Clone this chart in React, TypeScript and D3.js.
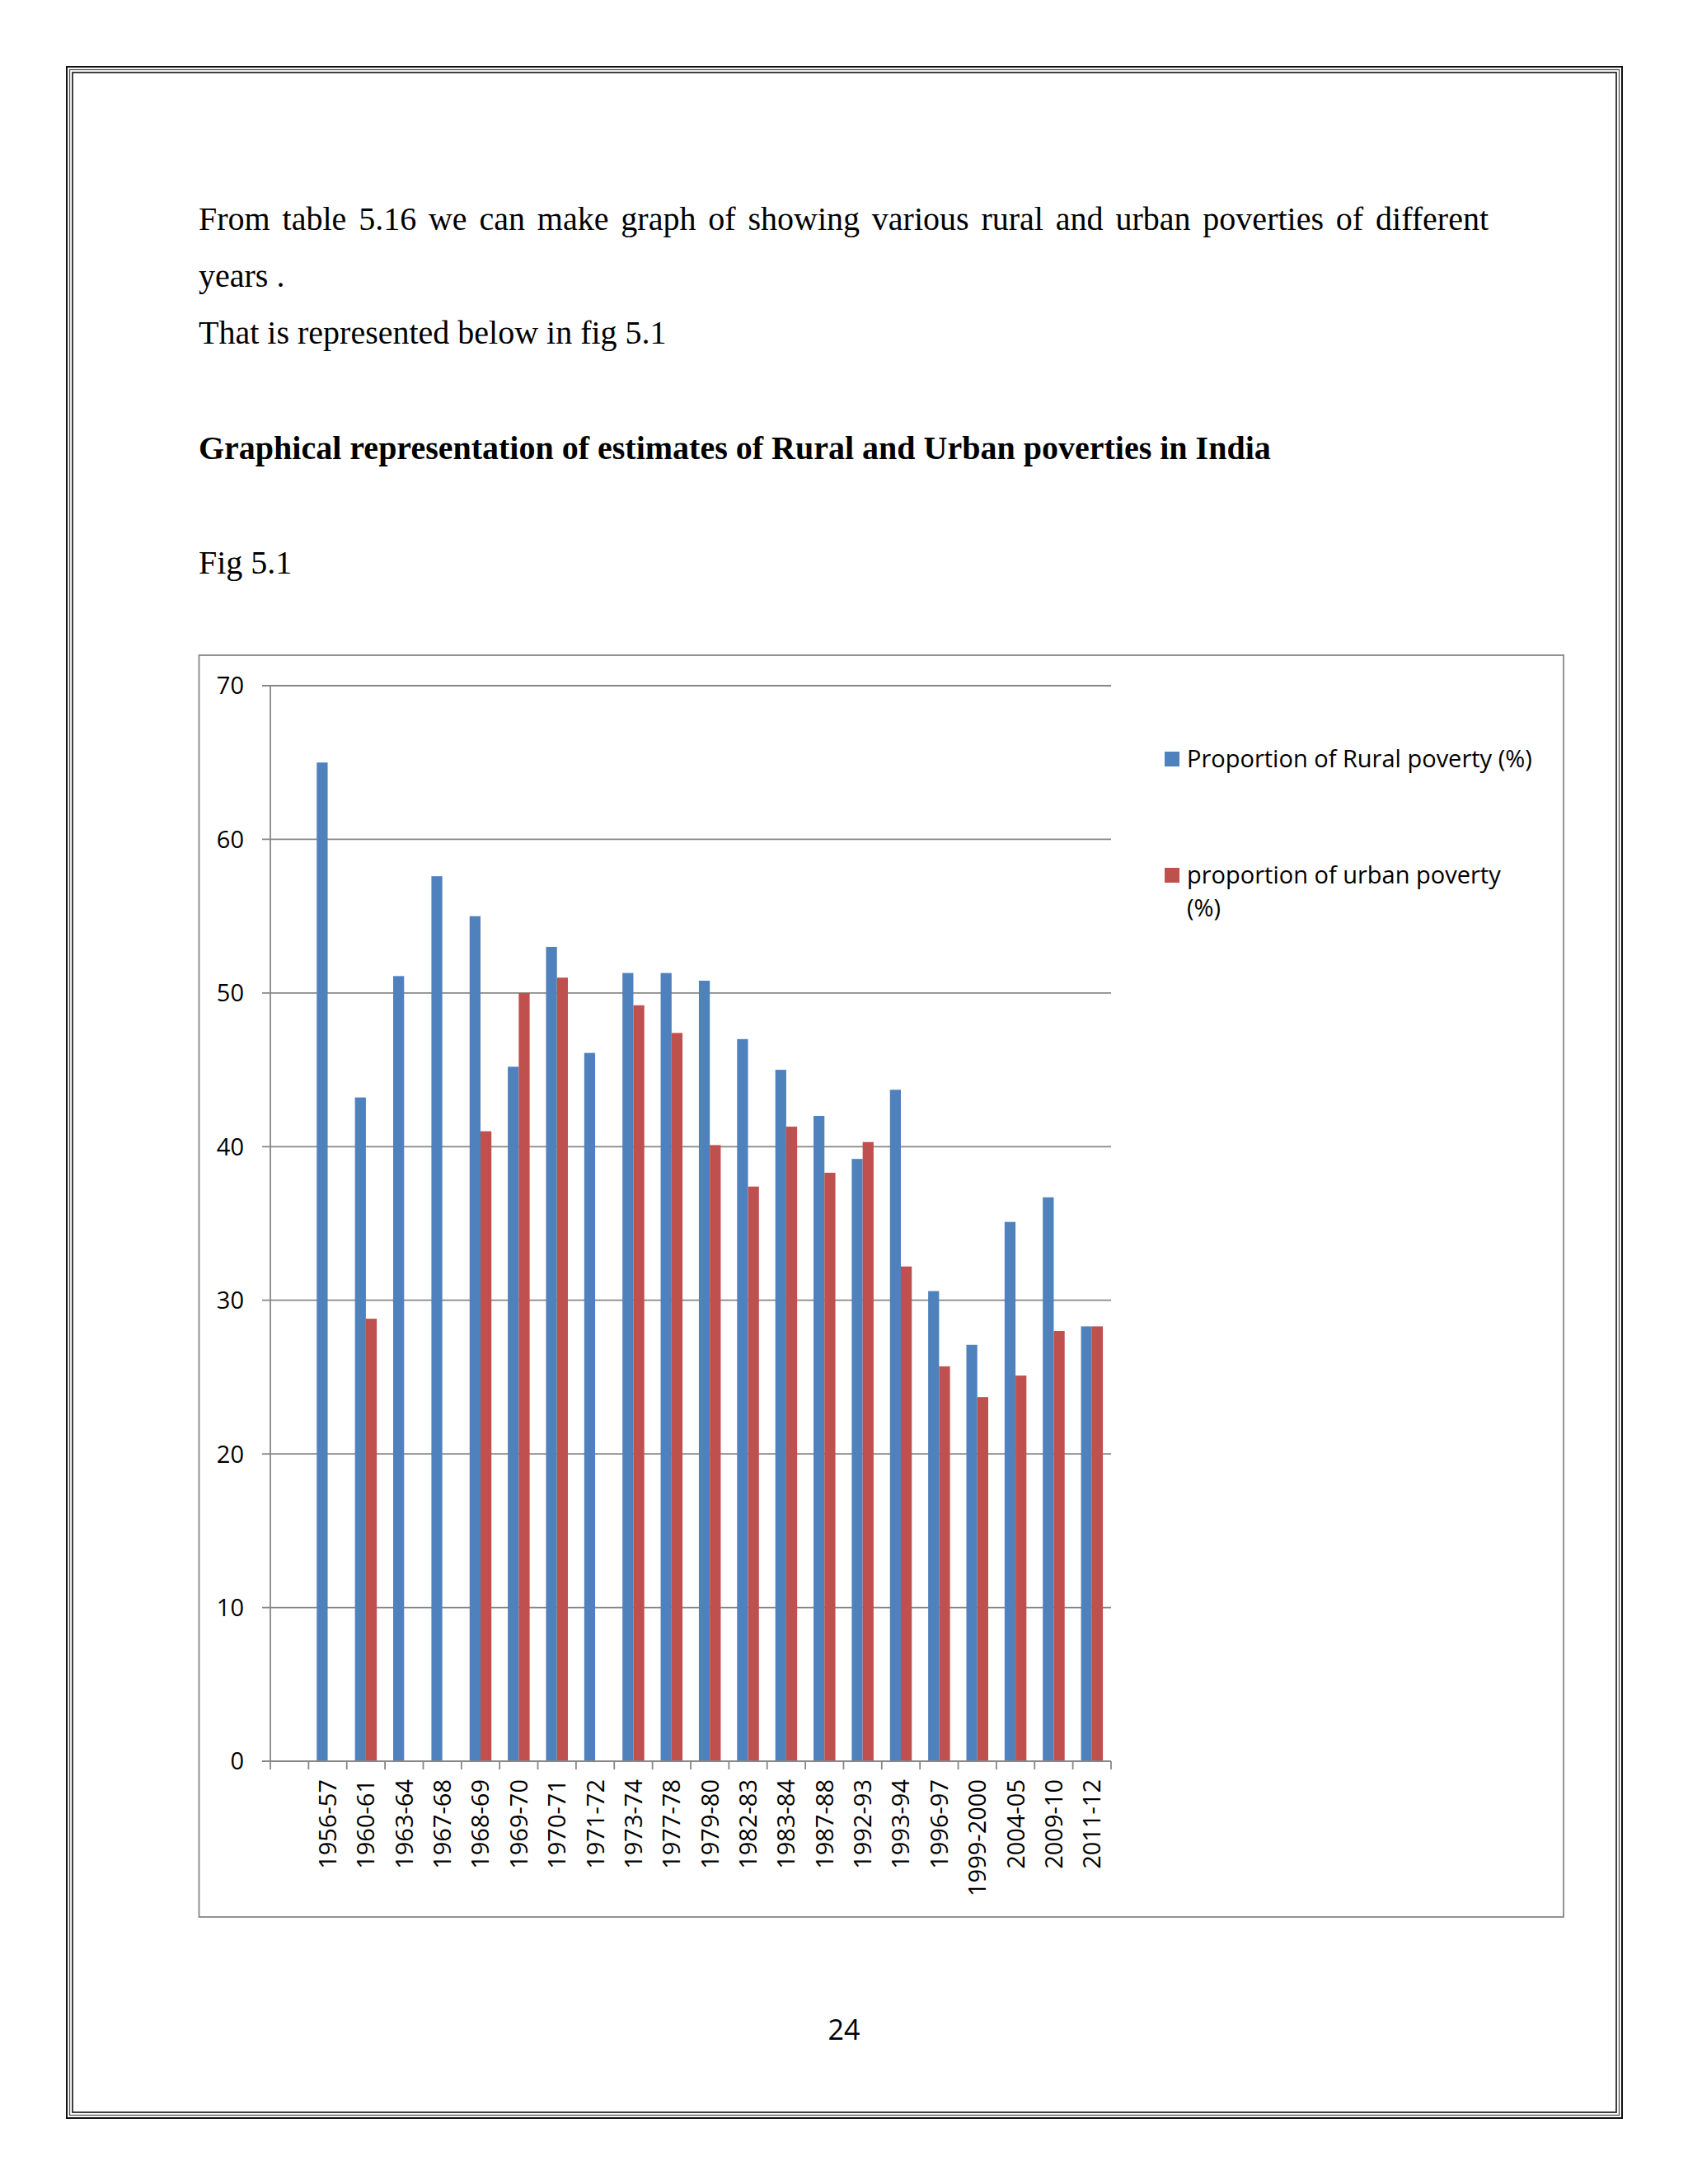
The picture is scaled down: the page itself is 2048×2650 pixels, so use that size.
import React, { useMemo } from "react";
import * as d3 from "d3";

const categories = [
  "",
  "1956-57",
  "1960-61",
  "1963-64",
  "1967-68",
  "1968-69",
  "1969-70",
  "1970-71",
  "1971-72",
  "1973-74",
  "1977-78",
  "1979-80",
  "1982-83",
  "1983-84",
  "1987-88",
  "1992-93",
  "1993-94",
  "1996-97",
  "1999-2000",
  "2004-05",
  "2009-10",
  "2011-12",
];

const ruralPoverty: (number | null)[] = [
  null, 65.0, 43.2, 51.1, 57.6, 55.0, 45.2, 53.0, 46.1, 51.3, 51.3, 50.8,
  47.0, 45.0, 42.0, 39.2, 43.7, 30.6, 27.1, 35.1, 36.7, 28.3,
];

const urbanPoverty: (number | null)[] = [
  null, null, 28.8, null, null, 41.0, 50.0, 51.0, null, 49.2, 47.4, 40.1,
  37.4, 41.3, 38.3, 40.3, 32.2, 25.7, 23.7, 25.1, 28.0, 28.3,
];

const seriesNames = ["Proportion of Rural poverty (%)", "proportion of urban poverty"];
const seriesKeys = ["rural", "urban"];
const yTicks = [0, 10, 20, 30, 40, 50, 60, 70];

const bodyLine1 =
  "From table 5.16 we can make graph of showing various rural and urban poverties of different";
const bodyLine2 = "years .";
const bodyLine3 = "That is represented below in fig 5.1";
const heading =
  "Graphical representation of estimates of Rural and Urban poverties in India";
const figLabel = "Fig 5.1";
const pageNumber = "24";

const W = 2048;
const H = 2650;
const COLORS: Record<string, string> = { rural: "#4F81BD", urban: "#C0504D" };
const GRID = "#878787";
const CHART_FONT = "'Open Sans', 'DejaVu Sans', sans-serif";
const SERIF = "'Liberation Serif', 'Times New Roman', serif";

function measure(text: string, font: string): number {
  try {
    const ctx = document.createElement("canvas").getContext("2d");
    if (!ctx) return 0;
    ctx.font = font;
    return ctx.measureText(text).width;
  } catch (e) {
    return 0;
  }
}

export default function App() {
  const left = 328;
  const right = 1348;
  const top = 832;
  const bottom = 2137;

  const x = d3
    .scaleBand<string>()
    .domain(categories)
    .range([left, right])
    .paddingInner(1.5 / 3.5)
    .paddingOuter(0.75 / 3.5);
  const xs = d3.scaleBand<string>().domain(seriesKeys).range([0, x.bandwidth()]);
  const y = d3.scaleLinear().domain([0, 70]).range([bottom, top]);
  const step = x.step();

  const justifyWidth = 1565;
  const wordSpacing = useMemo(() => {
    const natural = measure(bodyLine1, `40px "Liberation Serif"`);
    const spaces = bodyLine1.split(" ").length - 1;
    if (!natural) return 4.7;
    return (justifyWidth - natural) / spaces;
  }, []);

  const seriesValues: Record<string, (number | null)[]> = {
    rural: ruralPoverty,
    urban: urbanPoverty,
  };

  return (
    <svg
      width={W}
      height={H}
      viewBox={`0 0 ${W} ${H}`}
      style={{ position: "absolute", left: 0, top: 0, display: "block", background: "#fff" }}
    >
      <rect x={0} y={0} width={W} height={H} fill="#fff" />
      {/* page border */}
      <rect x={81} y={81} width={1887} height={2489} fill="none" stroke="#111" strokeWidth={2} />
      <rect x={84.5} y={84.5} width={1880} height={2482} fill="none" stroke="#555" strokeWidth={1.3} />
      <rect x={88} y={88} width={1873} height={2475} fill="none" stroke="#111" strokeWidth={1.6} />

      {/* body text */}
      <g fontFamily={SERIF} fontSize={40} fill="#000">
        <text x={241} y={279} style={{ wordSpacing: `${wordSpacing}px` }}>
          {bodyLine1}
        </text>
        <text x={241} y={348}>{bodyLine2}</text>
        <text x={241} y={417}>{bodyLine3}</text>
        <text x={241} y={557} fontWeight="bold">{heading}</text>
        <text x={241} y={696}>{figLabel}</text>
      </g>

      {/* chart frame */}
      <rect x={241.5} y={795} width={1655.5} height={1531} fill="#fff" stroke={GRID} strokeWidth={1.8} />

      {/* gridlines and y ticks */}
      <g>
        {yTicks.map((t) => (
          <g key={t}>
            <line x1={left - 10} x2={right} y1={y(t)} y2={y(t)} stroke={GRID} strokeWidth={1.8} />
            <text
              x={296}
              y={y(t)}
              dy="0.36em"
              textAnchor="end"
              fontFamily={CHART_FONT}
              fontSize={29}
              fill="#000"
            >
              {t}
            </text>
          </g>
        ))}
      </g>

      {/* bars */}
      <g>
        {seriesKeys.map((k) => (
          <g key={k} fill={COLORS[k]}>
            {categories.map((c, i) => {
              const v = seriesValues[k][i];
              if (v === null || v === undefined) return null;
              return (
                <rect
                  key={c + k}
                  x={(x(c) as number) + (xs(k) as number)}
                  y={y(v)}
                  width={xs.bandwidth()}
                  height={y(0) - y(v)}
                />
              );
            })}
          </g>
        ))}
      </g>

      {/* axes */}
      <line x1={left} x2={left} y1={top} y2={bottom} stroke={GRID} strokeWidth={1.8} />
      <line x1={left - 10} x2={right} y1={bottom} y2={bottom} stroke={GRID} strokeWidth={1.8} />
      {d3.range(categories.length + 1).map((i) => (
        <line
          key={"tick" + i}
          x1={left + i * step}
          x2={left + i * step}
          y1={bottom}
          y2={bottom + 10}
          stroke={GRID}
          strokeWidth={1.8}
        />
      ))}
      {categories.map((c) =>
        c ? (
          <text
            key={"lab" + c}
            transform={`translate(${(x(c) as number) + x.bandwidth() / 2},2159) rotate(-90)`}
            dy="0.36em"
            textAnchor="end"
            fontFamily={CHART_FONT}
            fontSize={29}
            fill="#000"
          >
            {c}
          </text>
        ) : null
      )}

      {/* legend */}
      <g fontFamily={CHART_FONT} fontSize={29} fill="#000">
        <rect x={1413} y={912} width={18} height={18} fill={COLORS.rural} />
        <text x={1440} y={931}>{seriesNames[0]}</text>
        <rect x={1413} y={1053} width={18} height={18} fill={COLORS.urban} />
        <text x={1440} y={1072}>{seriesNames[1]}</text>
        <text x={1440} y={1112}>(%)</text>
      </g>

      {/* page number */}
      <text x={1024} y={2475} textAnchor="middle" fontFamily={CHART_FONT} fontSize={34} fill="#000">
        {pageNumber}
      </text>
    </svg>
  );
}
